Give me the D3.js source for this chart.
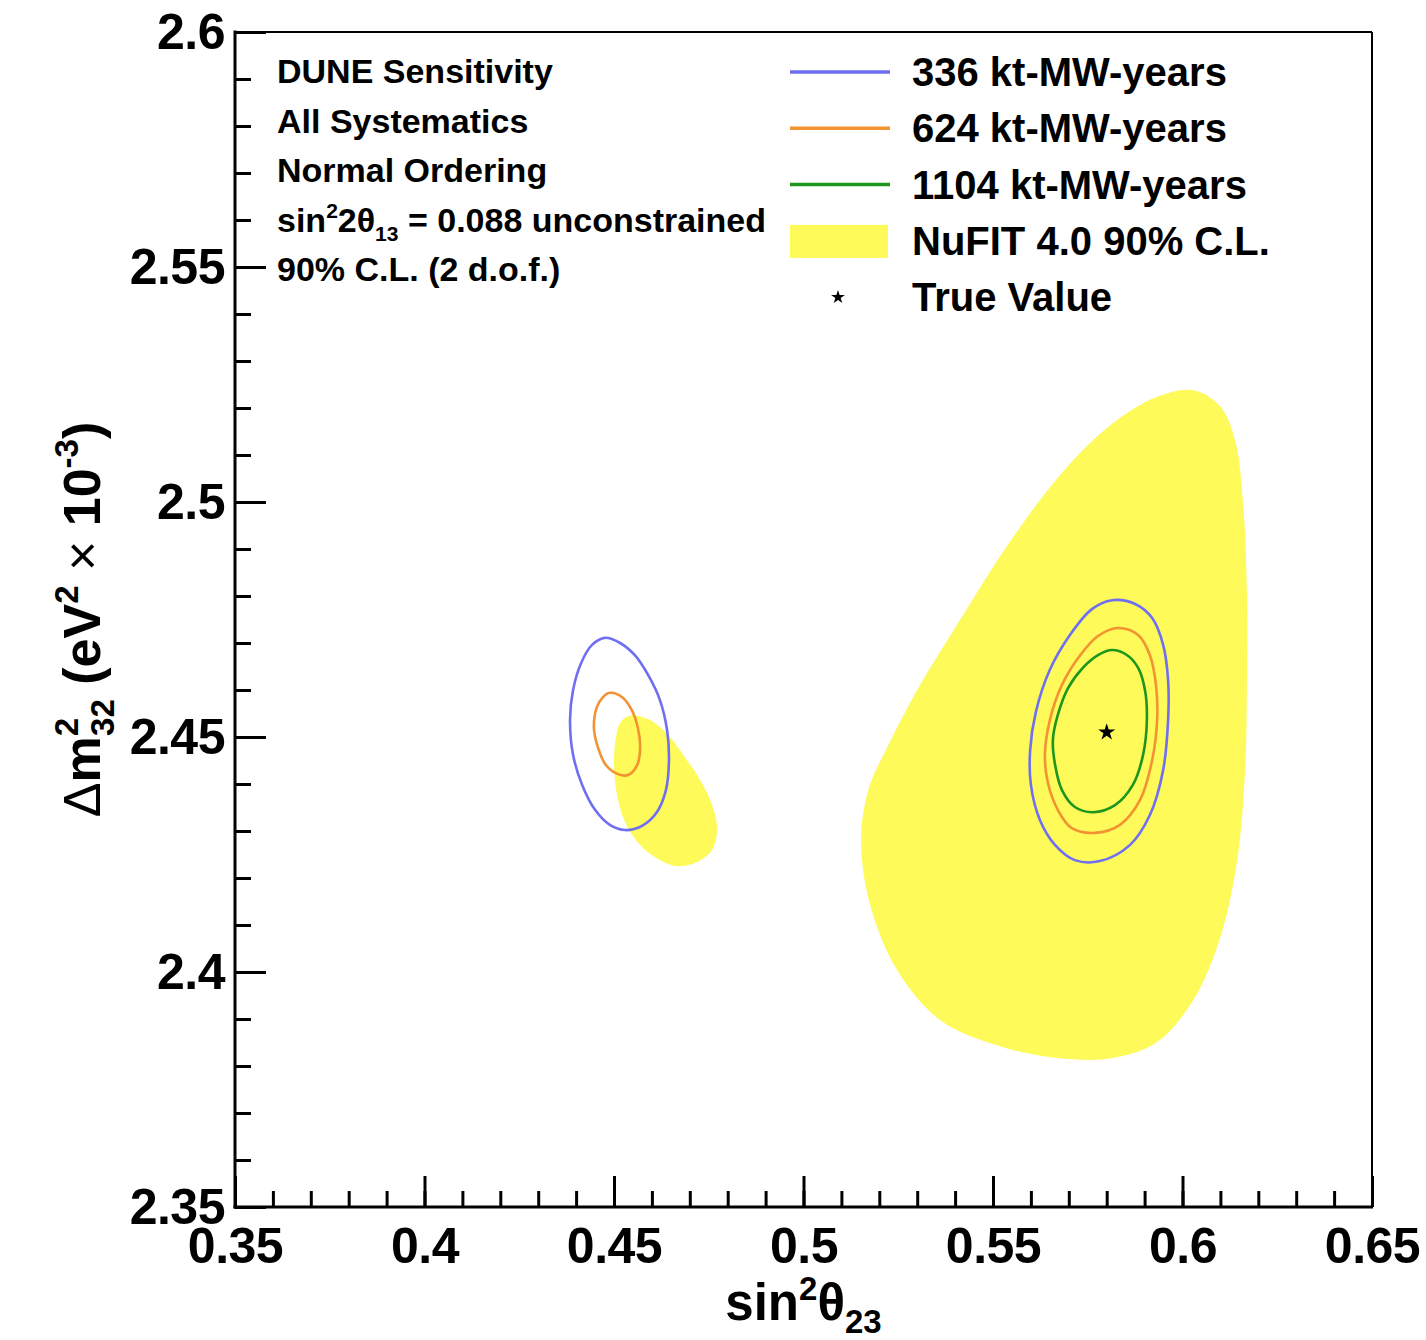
<!DOCTYPE html>
<html lang="en">
<head>
<meta charset="UTF-8">
<title>DUNE Sensitivity - sin2theta23 vs dm2_32</title>
<script src="https://cdnjs.cloudflare.com/ajax/libs/d3/7.8.5/d3.min.js"></script>
<style>
    body { margin: 0; background: #fff; }
    svg text { font-family: "Liberation Sans", Arial, Helvetica, sans-serif; font-weight: bold; fill: #000; }
</style>
</head>
<body>
<svg id="chart" width="1426" height="1340"></svg>
<script>
// tick labels
const xTickValues = [0.35, 0.4, 0.45, 0.5, 0.55, 0.6, 0.65];
const xTickLabels = ["0.35", "0.4", "0.45", "0.5", "0.55", "0.6", "0.65"];
const yTickValues = [2.35, 2.4, 2.45, 2.5, 2.55, 2.6];
const yTickLabels = ["2.35", "2.4", "2.45", "2.5", "2.55", "2.6"];

// NuFIT 4.0 90% C.L. regions [sin2theta23, dm2_32]
const nufitUpper = [
    [0.6028, 2.5238], [0.6099, 2.5204], [0.6139, 2.5130], [0.6160, 2.4996], [0.6170, 2.4806],
    [0.6170, 2.4615], [0.6165, 2.4426], [0.6144, 2.4236], [0.6099, 2.4072], [0.6028, 2.3940],
    [0.5933, 2.3851], [0.5817, 2.3817], [0.5669, 2.3817], [0.5518, 2.3842], [0.5360, 2.3898],
    [0.5247, 2.4004], [0.5175, 2.4145], [0.5152, 2.4283], [0.5172, 2.4390], [0.5222, 2.4480],
    [0.5300, 2.4600], [0.5410, 2.4745], [0.5540, 2.4910], [0.5685, 2.5065], [0.5812, 2.5165],
    [0.5930, 2.5223]
];
const nufitLower = [
    [0.4542, 2.4545], [0.4595, 2.4536], [0.4643, 2.4504], [0.4687, 2.4457], [0.4727, 2.4409],
    [0.4759, 2.4355], [0.4772, 2.4306], [0.4759, 2.4260], [0.4719, 2.4234], [0.4669, 2.4225],
    [0.4621, 2.4238], [0.4569, 2.4270], [0.4529, 2.4319], [0.4508, 2.4377], [0.4500, 2.4440],
    [0.4505, 2.4498], [0.4518, 2.4532]
];

// DUNE contours
const c336Lower = [
    [0.4476, 2.4711], [0.4516, 2.4700], [0.4555, 2.4674], [0.4590, 2.4632], [0.4621, 2.4579],
    [0.4640, 2.4515], [0.4645, 2.4451], [0.4637, 2.4387], [0.4613, 2.4340], [0.4574, 2.4311],
    [0.4529, 2.4302], [0.4489, 2.4313], [0.4450, 2.4345], [0.4416, 2.4398], [0.4392, 2.4462],
    [0.4384, 2.4536], [0.4392, 2.4600], [0.4413, 2.4657], [0.4442, 2.4696]
];
const c336Upper = [
    [0.5814, 2.4791], [0.5875, 2.4783], [0.5920, 2.4753], [0.5949, 2.4696], [0.5962, 2.4621],
    [0.5962, 2.4536], [0.5949, 2.4430], [0.5914, 2.4334], [0.5861, 2.4270], [0.5782, 2.4236],
    [0.5716, 2.4238], [0.5664, 2.4270], [0.5624, 2.4323], [0.5600, 2.4398], [0.5598, 2.4472],
    [0.5613, 2.4553], [0.5650, 2.4643], [0.5703, 2.4717], [0.5761, 2.4772]
];
const c624Lower = [
    [0.4489, 2.4594], [0.4521, 2.4585], [0.4547, 2.4557], [0.4563, 2.4519], [0.4569, 2.4477],
    [0.4561, 2.4440], [0.4537, 2.4419], [0.4511, 2.4421], [0.4479, 2.4440], [0.4458, 2.4477],
    [0.4447, 2.4519], [0.4455, 2.4564], [0.4471, 2.4585]
];
const c624Upper = [
    [0.5830, 2.4732], [0.5883, 2.4717], [0.5914, 2.4674], [0.5930, 2.4611], [0.5933, 2.4536],
    [0.5920, 2.4451], [0.5888, 2.4366], [0.5835, 2.4313], [0.5769, 2.4296], [0.5708, 2.4306],
    [0.5671, 2.4345], [0.5645, 2.4402], [0.5637, 2.4462], [0.5650, 2.4536], [0.5682, 2.4611],
    [0.5730, 2.4674], [0.5777, 2.4715]
];
const c1104Upper = [
    [0.5814, 2.4685], [0.5854, 2.4674], [0.5883, 2.4647], [0.5901, 2.4600], [0.5906, 2.4536],
    [0.5896, 2.4462], [0.5869, 2.4398], [0.5822, 2.4355], [0.5764, 2.4340], [0.5716, 2.4351],
    [0.5682, 2.4387], [0.5664, 2.4440], [0.5658, 2.4494], [0.5671, 2.4547], [0.5698, 2.4604],
    [0.5737, 2.4647], [0.5777, 2.4674]
];

const trueValue = [0.58, 2.451];

const infoLines = ["DUNE Sensitivity", "All Systematics", "Normal Ordering", "THETA13", "90% C.L. (2 d.o.f.)"];
const legendLabels = ["336 kt-MW-years", "624 kt-MW-years", "1104 kt-MW-years", "NuFIT 4.0 90% C.L.", "True Value"];

const colors = { c336: "#6f6ff2", c624: "#f39232", c1104: "#1e961e", nufit: "#fdfa5a" };

// layout
const margin = { top: 32, right: 54, bottom: 133, left: 235 };
const W = 1426, H = 1340;

const svg = d3.select("#chart");

const x = d3.scaleLinear().domain([0.35, 0.65]).range([margin.left, W - margin.right]);
const y = d3.scaleLinear().domain([2.35, 2.6]).range([H - margin.bottom, margin.top]);

const line = d3.line()
    .x(d => x(d[0]))
    .y(d => y(d[1]))
    .curve(d3.curveCatmullRomClosed.alpha(0.5));

// yellow regions
[nufitUpper, nufitLower].forEach(r => {
    svg.append("path")
        .attr("d", line(r))
        .attr("fill", colors.nufit)
        .attr("stroke", "none");
});

// contours
const contours = [
    { pts: c336Lower, col: colors.c336 },
    { pts: c336Upper, col: colors.c336 },
    { pts: c624Lower, col: colors.c624 },
    { pts: c624Upper, col: colors.c624 },
    { pts: c1104Upper, col: colors.c1104 }
];
contours.forEach(c => {
    svg.append("path")
        .attr("d", line(c.pts))
        .attr("fill", "none")
        .attr("stroke", c.col)
        .attr("stroke-width", 2.6);
});

// true value star
const star = d3.symbol().type(d3.symbolStar).size(90);
svg.append("path")
    .attr("d", star())
    .attr("transform", `translate(${x(trueValue[0])},${y(trueValue[1])})`)
    .attr("fill", "#000");

// frame
const x0 = x.range()[0], x1 = x.range()[1], y0 = y.range()[0], y1 = y.range()[1];
svg.append("line").attr("x1", x0).attr("x2", x1).attr("y1", y1).attr("y2", y1).attr("stroke", "#000").attr("stroke-width", 2);
svg.append("line").attr("x1", x1).attr("x2", x1).attr("y1", y1).attr("y2", y0).attr("stroke", "#000").attr("stroke-width", 2);
svg.append("line").attr("x1", x0).attr("x2", x0).attr("y1", y1 - 1.5).attr("y2", y0 + 1.5).attr("stroke", "#000").attr("stroke-width", 3);
svg.append("line").attr("x1", x0 - 1.5).attr("x2", x1 + 1).attr("y1", y0).attr("y2", y0).attr("stroke", "#000").attr("stroke-width", 3);

// axes
const xMinor = svg.append("g")
    .attr("transform", `translate(0,${y0})`)
    .call(d3.axisBottom(x).ticks(30).tickSizeInner(-16).tickSizeOuter(0).tickFormat(""));
const xMajor = svg.append("g")
    .attr("transform", `translate(0,${y0})`)
    .call(d3.axisBottom(x).tickValues(xTickValues).tickSizeInner(-31).tickSizeOuter(0).tickPadding(20)
        .tickFormat((d, i) => xTickLabels[i]));
const yMinor = svg.append("g")
    .attr("transform", `translate(${x0},0)`)
    .call(d3.axisLeft(y).ticks(25).tickSizeInner(-16).tickSizeOuter(0).tickFormat(""));
const yMajor = svg.append("g")
    .attr("transform", `translate(${x0},0)`)
    .call(d3.axisLeft(y).tickValues(yTickValues).tickSizeInner(-31).tickSizeOuter(0).tickPadding(10)
        .tickFormat((d, i) => yTickLabels[i]));

[xMinor, xMajor, yMinor, yMajor].forEach(g => {
    g.select(".domain").remove();
    g.selectAll(".tick line").attr("stroke", "#000").attr("stroke-width", 3);
    g.selectAll("text")
        .attr("fill", "#000")
        .style("font-size", "50px")
        .style("font-family", "'Liberation Sans', Arial, sans-serif")
        .style("font-weight", "bold")
        .style("letter-spacing", "-0.5px");
});

// x axis title
const xt = svg.append("text")
    .attr("x", (x0 + x1) / 2)
    .attr("y", 1320)
    .attr("text-anchor", "middle")
    .style("font-size", "51px");
xt.append("tspan").text("sin");
xt.append("tspan").attr("dy", -20).style("font-size", "33px").text("2");
xt.append("tspan").attr("dy", 20).text("θ");
xt.append("tspan").attr("dy", 13).style("font-size", "33px").text("23");

// y axis title
const yt = svg.append("text")
    .attr("transform", `translate(100,${(y0 + y1) / 2}) rotate(-90)`)
    .attr("text-anchor", "middle")
    .style("font-size", "52px");
yt.append("tspan").style("font-weight", "normal").text("Δ");
yt.append("tspan").text("m");
yt.append("tspan").attr("dy", -22).style("font-size", "33px").text("2");
yt.append("tspan").attr("dx", -18).attr("dy", 36).style("font-size", "33px").text("32");
yt.append("tspan").attr("dy", -14).text(" (eV");
yt.append("tspan").attr("dy", -22).style("font-size", "33px").text("2");
yt.append("tspan").attr("dy", 22).text(" ");
yt.append("tspan").style("font-weight", "normal").text("×");
yt.append("tspan").text(" 10");
yt.append("tspan").attr("dy", -22).style("font-size", "33px").text("-3");
yt.append("tspan").attr("dy", 22).text(")");

// info text block
infoLines.forEach((t, i) => {
    const tx = svg.append("text")
        .attr("x", 277)
        .attr("y", 83 + i * 49.5)
        .style("font-size", "34px");
    if (t === "THETA13") {
        tx.append("tspan").text("sin");
        tx.append("tspan").attr("dy", -14).style("font-size", "21px").text("2");
        tx.append("tspan").attr("dy", 14).text("2θ");
        tx.append("tspan").attr("dy", 9).style("font-size", "21px").text("13");
        tx.append("tspan").attr("dy", -9).text(" = 0.088 unconstrained");
    } else {
        tx.text(t);
    }
});

// legend
const legend = svg.append("g");
const legendTypes = ["c336", "c624", "c1104", "nufit", "true"];
legendTypes.forEach((k, i) => {
    const cy = 72 + i * 56.3;
    if (k === "nufit") {
        legend.append("rect").attr("x", 790).attr("y", cy - 16).attr("width", 98).attr("height", 33).attr("fill", colors.nufit);
    } else if (k === "true") {
        legend.append("path").attr("d", d3.symbol().type(d3.symbolStar).size(60)())
            .attr("transform", `translate(838,${cy})`).attr("fill", "#000");
    } else {
        legend.append("line").attr("x1", 790).attr("x2", 890).attr("y1", cy).attr("y2", cy)
            .attr("stroke", colors[k]).attr("stroke-width", 3.5);
    }
    legend.append("text")
        .attr("x", 912)
        .attr("y", cy + 14)
        .style("font-size", "40px")
        .text(legendLabels[i]);
});
</script>
</body>
</html>
